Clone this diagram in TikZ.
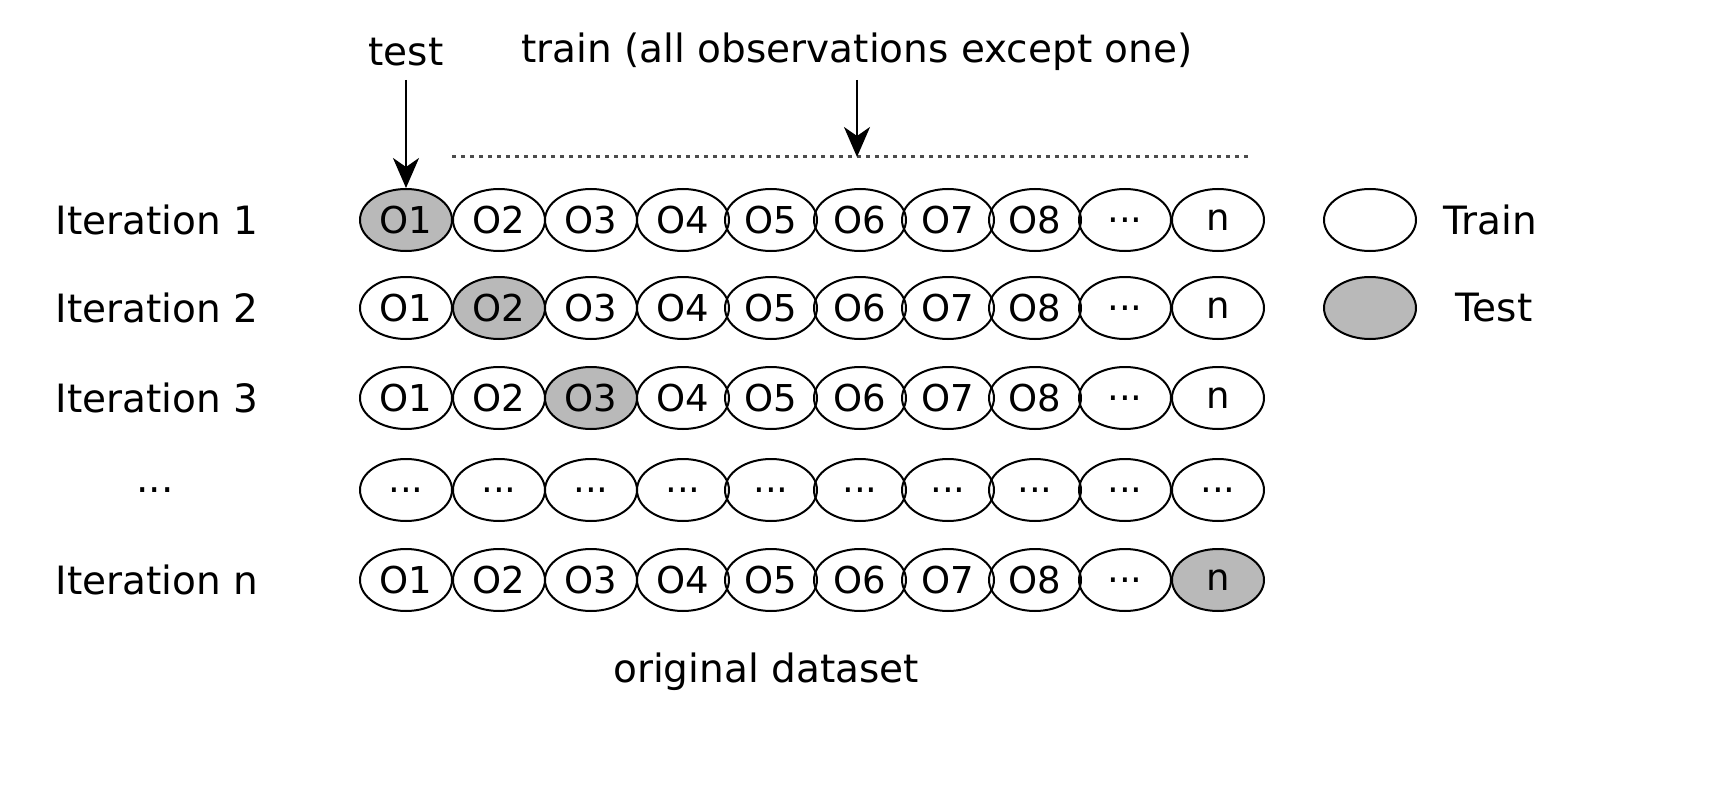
\documentclass[tikz,border=0pt]{standalone}
\usepackage{fontspec}
\setmainfont{DejaVu Sans}
\usetikzlibrary{arrows.meta,shapes.geometric}
\begin{document}
\begin{tikzpicture}[x=1pt,y=-1pt,
  obs/.style={draw,line width=2pt,ellipse,minimum width=92pt,minimum height=62pt,inner sep=0pt,font=\fontsize{37}{40}\selectfont},
  tst/.style={obs,fill=gray!55},
  lbl/.style={font=\fontsize{39}{42}\selectfont},
  arr/.style={line width=2.6pt,-{Stealth[length=30pt,width=26pt,inset=9pt]}}]
\useasboundingbox (0,0) rectangle (1722,797);
\def\dd{.{}.{}.}
\def\xs{406,499,591,683,771,860,948,1035,1125,1218}
\foreach \r/\y/\lab/\t in {1/220/Iteration 1/1,2/308/Iteration 2/2,3/398/Iteration 3/3,5/580/Iteration n/10}{
  \node[lbl,anchor=west] (it\r) at (52,\y) {\lab};
  \foreach \x [count=\i] in \xs {
    \ifnum\i=9 \def\txt{\dd}\else\ifnum\i=10 \def\txt{n}\else\def\txt{O\i}\fi\fi
    \ifnum\i=\t \node[tst] (e\r-\i) at (\x,\y) {\txt};
    \else \node[obs] (e\r-\i) at (\x,\y) {\txt};\fi
  }
}
\node[lbl] (it4) at (155,490) {\dd};
\foreach \x [count=\i] in \xs { \node[obs] (e4-\i) at (\x,490) {\dd}; }
\node[obs] (lt) at (1370,220) {};
\node[tst] (ls) at (1370,308) {};
\node[lbl,anchor=west] (ltl) at (1440,220) {Train};
\node[lbl,anchor=west] (lsl) at (1452,308) {Test};
\node[lbl] (testl) at (406,52) {test};
\node[lbl] (trainl) at (857,52) {train (all observations except one)};
\coordinate (ds) at (452,157);
\coordinate (de) at (1248,157);
\coordinate (dm) at (857,157);
\draw[gray!60!black,line width=3pt,dash pattern=on 4pt off 5pt] (ds) -- (de);
\draw[arr] (406,80) -- (e1-1.north);
\draw[arr] (857,80) -- (dm);
\node[lbl] (orig) at (766,672) {original dataset};
\end{tikzpicture}
\end{document}
